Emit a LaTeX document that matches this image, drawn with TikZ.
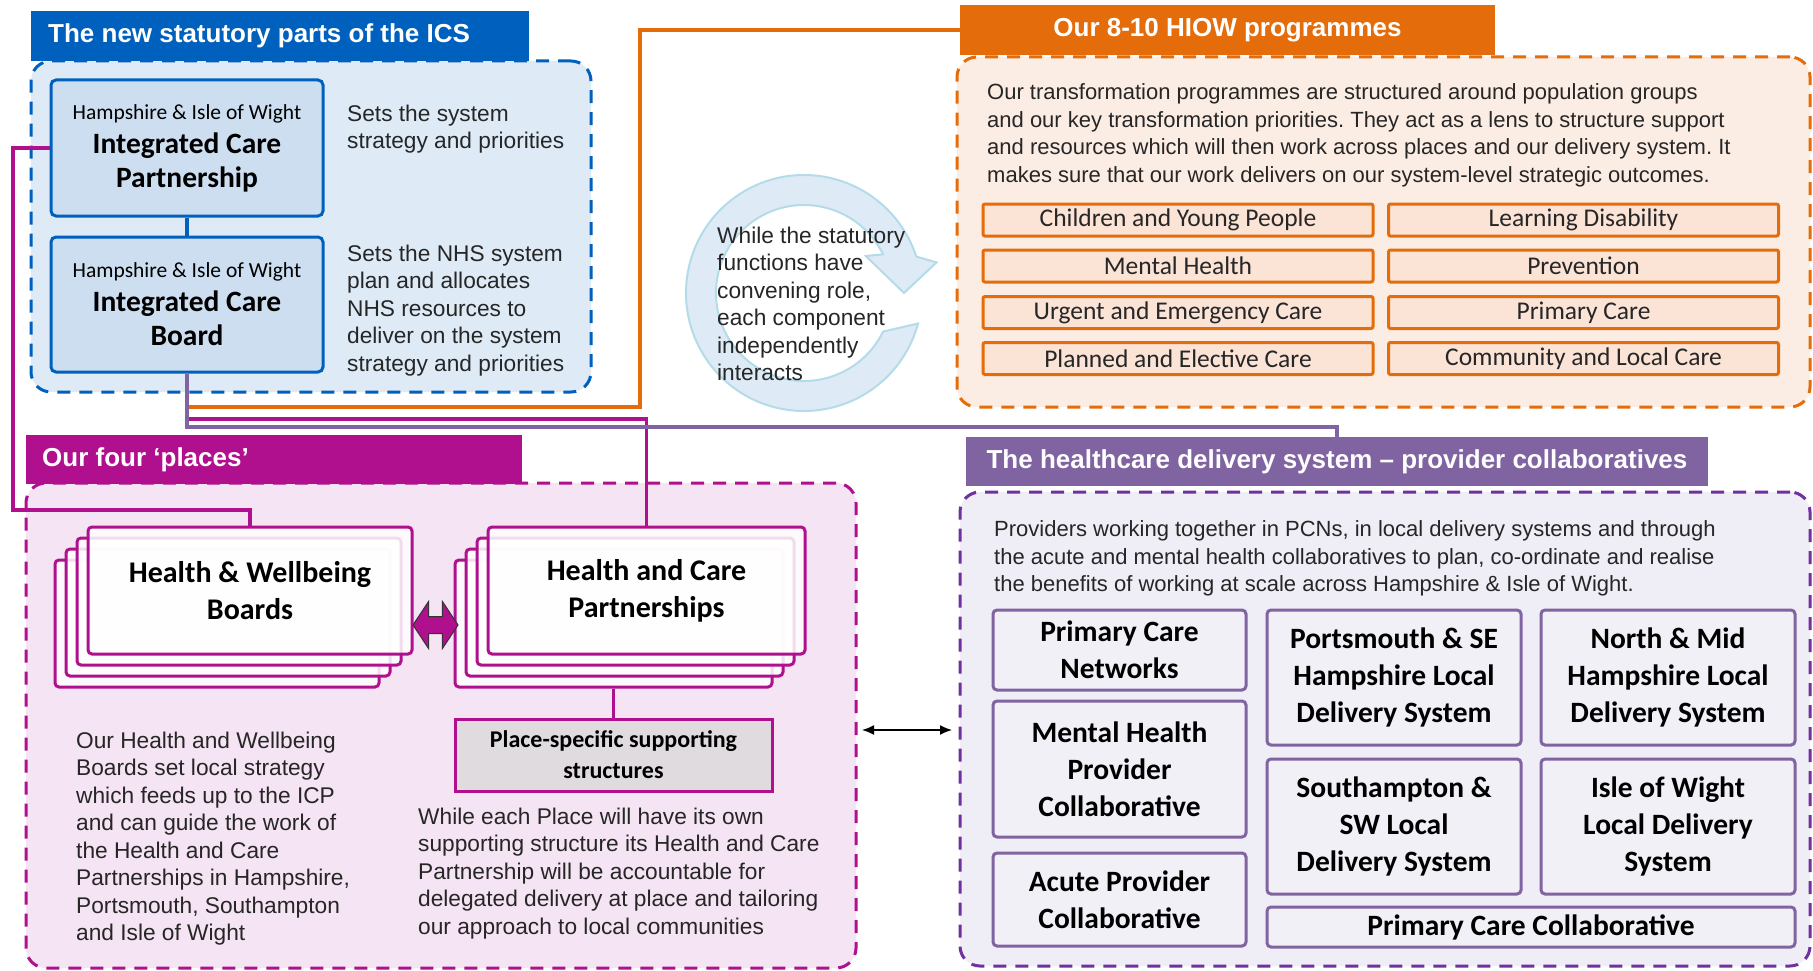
\documentclass[tikz,border=0pt]{standalone}
\usepackage{fontspec}
\setmainfont{Liberation Sans}
\newfontfamily\calfont{Carlito}
\usetikzlibrary{shapes.arrows,arrows.meta}
\definecolor{nhsblue}{RGB}{0,96,189}
\definecolor{bluebg}{RGB}{222,235,247}
\definecolor{icpfill}{RGB}{204,222,240}
\definecolor{orng}{RGB}{228,108,10}
\definecolor{orngbg}{RGB}{252,237,228}
\definecolor{orngbox}{RGB}{251,227,214}
\definecolor{mag}{RGB}{176,16,142}
\definecolor{magbg}{RGB}{245,228,243}
\definecolor{purp}{RGB}{128,100,162}
\definecolor{purpdash}{RGB}{112,48,160}
\definecolor{purpbg}{RGB}{239,237,245}
\definecolor{purpbox}{RGB}{242,240,247}
\definecolor{placefill}{RGB}{224,219,223}
\definecolor{cycfill}{RGB}{222,235,246}
\definecolor{cycdraw}{RGB}{180,220,232}
\definecolor{txt}{RGB}{38,38,38}
\frenchspacing
\begin{document}
\begin{tikzpicture}[x=1pt,y=1pt,
  cont/.style={draw, dash pattern=on 13pt off 9pt, line width=3pt, rounded corners=20pt, inner sep=0pt, outer sep=0pt},
  bar/.style={inner sep=0pt, outer sep=0pt, text=white, font=\bfseries\fontsize{26}{30}\selectfont},
  lbl/.style={inner sep=0pt, text=white, font=\bfseries\fontsize{26}{30}\selectfont},
  para/.style={anchor=north west, align=left, inner sep=0pt, text=txt, font=\fontsize{22.7}{27.5}\selectfont},
  widepara/.style={para, font=\fontsize{22}{27.5}\selectfont},
  icpbox/.style={draw=nhsblue, fill=icpfill, line width=3pt, rounded corners=5pt, minimum width=272pt, minimum height=136pt, align=center, inner sep=0pt, text=black, font=\calfont\bfseries\fontsize{29.5}{34}\selectfont},
  pgbox/.style={draw=orng, fill=orngbox, line width=3pt, rounded corners=2pt, minimum width=390pt, minimum height=32pt, inner sep=0pt, text=txt, font=\calfont\fontsize{25.5}{30}\selectfont},
  stackbox/.style={draw=mag, fill=white, fill opacity=0.85, text opacity=1, line width=3pt, rounded corners=4pt, minimum height=127pt, inner sep=0pt, align=center, text=black, font=\calfont\bfseries\fontsize{30}{37}\selectfont},
  placebox/.style={draw=mag, fill=placefill, line width=3pt, minimum width=317pt, minimum height=72pt, inner sep=0pt, align=center, text=black, font=\calfont\bfseries\fontsize{24}{31}\selectfont},
  pbox/.style={draw=purp, fill=purpbox, line width=3pt, rounded corners=4pt, inner sep=0pt, align=center, text=black, font=\calfont\bfseries\fontsize{29.5}{37}\selectfont},
  conn/.style={line width=3.6pt},
  dblarrow/.style={double arrow, fill=mag, draw=black!80, line width=1pt, inner sep=0pt, text height=8pt, text depth=8pt, minimum height=45pt, double arrow head extend=15pt, double arrow tip angle=113},
  cyc/.style={fill=cycfill, draw=cycdraw, line width=2pt}
]
\useasboundingbox (0,0) rectangle (1813,-971);
\fill[white] (0,0) rectangle (1813,-971);

% containers
\node[cont, draw=nhsblue, fill=bluebg, minimum width=560pt, minimum height=331pt] (blueC) at (311,-226.5) {};
\node[cont, draw=orng, fill=orngbg, minimum width=853pt, minimum height=350pt] (orC) at (1383.5,-232) {};
\node[cont, draw=mag, fill=magbg, minimum width=830pt, minimum height=485pt] (magC) at (441,-725.5) {};
\node[cont, draw=purpdash, fill=purpbg, minimum width=850pt, minimum height=474pt] (purC) at (1385,-729) {};

% title bars
\node[bar, fill=nhsblue, minimum width=498pt, minimum height=50pt] (blueT) at (280,-36) {};
\node[lbl, anchor=west] (blueTl) at (48,-36) {The new statutory parts of the ICS};
\node[bar, fill=orng, minimum width=535pt, minimum height=50pt] (orT) at (1227.5,-30) {Our 8-10 HIOW programmes};
\node[bar, fill=mag, minimum width=496pt, minimum height=49pt] (magT) at (274,-459.5) {};
\node[lbl, anchor=west] (magTl) at (42,-459.5) {Our four ‘places’};
\node[bar, fill=purp, minimum width=742pt, minimum height=49pt] (purT) at (1337,-461.5) {The healthcare delivery system – provider collaboratives};

% cycle arrow
\coordinate (cc) at (804,-293);
\filldraw[cyc] ([shift={(-15:118)}]cc) arc[start angle=-15, end angle=-342, radius=118]
  -- ([shift={(13:136)}]cc) -- ([shift={(0:100)}]cc) -- ([shift={(31:72)}]cc)
  -- ([shift={(26:88)}]cc) arc[start angle=-334, end angle=-26, radius=88] -- cycle;
\node[para] (cycText) at (717,-226.5) {While the statutory\\functions have\\convening role,\\each component\\independently\\interacts};

% ICS boxes
\node[icpbox] (icp) at (187,-148) {{\mdseries\fontsize{21.5}{34}\selectfont Hampshire \& Isle of Wight}\\Integrated Care\\Partnership};
\node[icpbox, minimum height=135pt] (icb) at (187,-304.5) {{\mdseries\fontsize{21.5}{34}\selectfont Hampshire \& Isle of Wight}\\Integrated Care\\Board};
\node[para] (sets1) at (347,-104.5) {Sets the system\\strategy and priorities};
\node[para] (sets2) at (347,-244.5) {Sets the NHS system\\plan and allocates\\NHS resources to\\deliver on the system\\strategy and priorities};

% programmes
\node[widepara] (orPara) at (987,-83.5) {Our transformation programmes are structured around population groups\\and our key transformation priorities. They act as a lens to structure support\\and resources which will then work across places and our delivery system. It\\makes sure that our work delivers on our system-level strategic outcomes.};
\node[pgbox] (pg1) at (1178,-220) {Children and Young People};
\node[pgbox] (pg2) at (1583.5,-220) {Learning Disability};
\node[pgbox] (pg3) at (1178,-266) {Mental Health};
\node[pgbox] (pg4) at (1583.5,-266) {Prevention};
\node[pgbox] (pg5) at (1178,-312.5) {Urgent and Emergency Care};
\node[pgbox] (pg6) at (1583.5,-312.5) {Primary Care};
\node[pgbox] (pg7) at (1178,-358.5) {Planned and Elective Care};
\node[pgbox] (pg8) at (1583.5,-358.5) {Community and Local Care};

% places
\node[stackbox, minimum width=324pt] (hwb3) at (217,-623.5) {};
\node[stackbox, minimum width=324pt] (hwb2) at (228,-612.5) {};
\node[stackbox, minimum width=324pt] (hwb1) at (239,-601.5) {};
\node[stackbox, minimum width=324pt] (hwb0) at (250,-590.5) {Health \& Wellbeing\\Boards};
\node[stackbox, minimum width=317pt] (hcp3) at (613.5,-623.5) {};
\node[stackbox, minimum width=317pt] (hcp2) at (624.5,-612.5) {};
\node[stackbox, minimum width=317pt] (hcp1) at (635.5,-601.5) {};
\node[stackbox, minimum width=317pt] (hcp0) at (646.5,-590.5) {Health and Care\\Partnerships};
\node[dblarrow] (dbl) at (435.5,-625) {};
\node[placebox] (place) at (613.5,-755) {Place-specific supporting\\structures};
\node[para] (hwbPara) at (76,-731.5) {Our Health and Wellbeing\\Boards set local strategy\\which feeds up to the ICP\\and can guide the work of\\the Health and Care\\Partnerships in Hampshire,\\Portsmouth, Southampton\\and Isle of Wight};
\node[para] (hcpPara) at (418,-807.5) {While each Place will have its own\\supporting structure its Health and Care\\Partnership will be accountable for\\delegated delivery at place and tailoring\\our approach to local communities};

% delivery system
\node[widepara] (purPara) at (994,-520.5) {Providers working together in PCNs, in local delivery systems and through\\the acute and mental health collaboratives to plan, co-ordinate and realise\\the benefits of working at scale across Hampshire \& Isle of Wight.};
\node[pbox, minimum width=253pt, minimum height=80pt] (pcn) at (1119.5,-650) {Primary Care\\Networks};
\node[pbox, minimum width=253pt, minimum height=136pt] (mhpc) at (1119.5,-769) {Mental Health\\Provider\\Collaborative};
\node[pbox, minimum width=253pt, minimum height=93pt] (apc) at (1119.5,-899.5) {Acute Provider\\Collaborative};
\node[pbox, minimum width=254pt, minimum height=135pt] (psh) at (1394,-677.5) {Portsmouth \& SE\\Hampshire Local\\Delivery System};
\node[pbox, minimum width=254pt, minimum height=135pt] (nmh) at (1668,-677.5) {North \& Mid\\Hampshire Local\\Delivery System};
\node[pbox, minimum width=254pt, minimum height=135pt] (soton) at (1394,-826.5) {Southampton \&\\SW Local\\Delivery System};
\node[pbox, minimum width=254pt, minimum height=135pt] (iow) at (1668,-826.5) {Isle of Wight\\Local Delivery\\System};
\node[pbox, minimum width=528pt, minimum height=40pt] (pcc) at (1531,-927) {Primary Care Collaborative};

% connectors
\coordinate (m1) at (13,-510);
\coordinate (o1) at (640,-407);
\coordinate (m2) at (646.5,-419);
\coordinate (p1) at (1337,-427);
\draw[conn, nhsblue] (icp.south) -- (icp.south |- icb.north);
\draw[conn, mag] (icp.west) -| (m1) -| (hwb0.north);
\draw[conn, orng] (icb.south) |- (o1) |- (orT.west);
\draw[conn, mag] (icb.south) |- (m2) -- (hcp0.north);
\draw[conn, purp] (icb.south) |- (p1) -- (purT.north);
\draw[conn, mag] (hcp3.south) -- (place.north);
\draw[line width=1.5pt, black, {Latex[length=12pt,width=10pt]}-{Latex[length=12pt,width=10pt]}, shorten <=6pt, shorten >=8pt] ([yshift=-4.5pt]magC.east) -- ([yshift=-4.5pt]magC.east -| purC.west);
\end{tikzpicture}
\end{document}
